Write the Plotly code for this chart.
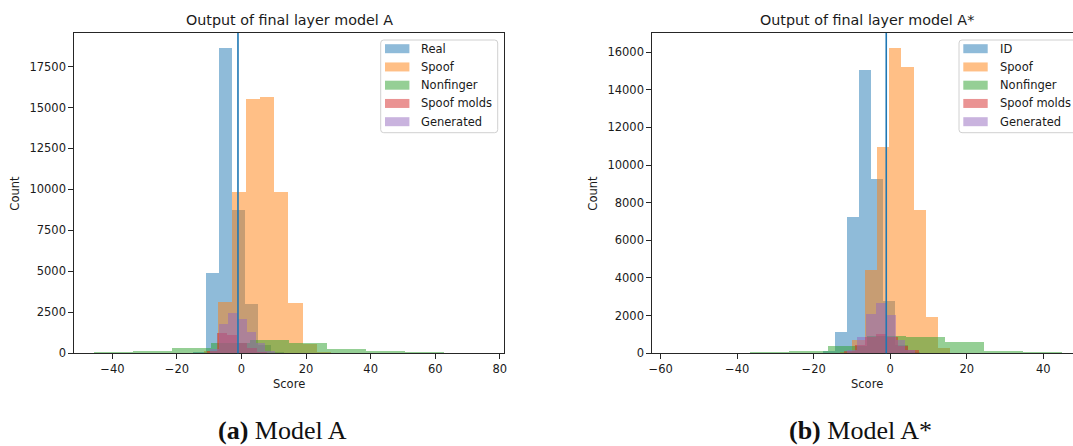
import numpy as np
import plotly.graph_objects as go

# ---- data: histogram bin edges and counts per class ----
# Model A
A_REAL_EDGES = [-15.0, -10.97, -6.94, -2.91, 1.12, 5.15, 9.18, 13.21, 17.24, 21.27, 25.3]
A_REAL = [60, 4880, 18610, 8750, 2990, 480, 110, 30, 8, 2]
A_SPOOF_EDGES = [-11.65, -7.27, -2.89, 1.49, 5.87, 10.25, 14.63, 19.01, 23.39, 27.77, 32.15]
A_SPOOF = [150, 3130, 9845, 15500, 15660, 9845, 3090, 560, 90, 10]
A_NONFINGER_EDGES = [-45.6, -33.55, -21.5, -9.45, 2.6, 14.65, 26.7, 38.75, 50.8, 62.85, 74.9]
A_NONFINGER = [60, 140, 300, 650, 810, 610, 265, 120, 60, 5]
A_MOLDS_EDGES = [-13.8, -10.7, -7.6, -4.5, -1.4, 1.7, 4.8, 7.9, 11.0, 14.1, 17.2]
A_MOLDS = [30, 170, 1250, 1120, 600, 300, 80, 20, 5, 1]
A_GEN_EDGES = [-12.6, -9.73, -6.86, -3.99, -1.12, 1.75, 4.62, 7.49, 10.36, 13.23, 16.1]
A_GEN = [20, 250, 1800, 2440, 2075, 1320, 600, 150, 30, 5]
A_THRESHOLD = -1.1

# Model A*
B_ID_EDGES = [-17.4, -14.26, -11.12, -7.98, -4.84, -1.7, 1.44, 4.58, 7.72, 10.86, 14.0]
B_ID = [100, 1116, 7230, 15060, 9265, 2800, 420, 80, 15, 3]
B_SPOOF_EDGES = [-13.03, -9.84, -6.64, -3.44, -0.24, 2.95, 6.15, 9.35, 12.54, 15.74, 18.94]
B_SPOOF = [60, 700, 4430, 10980, 16210, 15200, 7620, 1950, 270, 30]
B_NONFINGER_EDGES = [-57.0, -46.8, -36.6, -26.4, -16.2, -6.0, 4.2, 14.4, 24.6, 34.8, 45.0]
B_NONFINGER = [3, 10, 53, 142, 390, 900, 886, 585, 142, 53]
B_MOLDS_EDGES = [-14.8, -12.0, -9.2, -6.4, -3.6, -0.8, 2.0, 4.8, 7.6, 10.4, 13.2]
B_MOLDS = [20, 120, 450, 850, 1050, 880, 400, 150, 30, 5]
B_GEN_EDGES = [-16.4, -13.85, -11.3, -8.75, -6.2, -3.65, -1.1, 1.45, 4.0, 6.55, 9.1]
B_GEN = [5, 30, 200, 880, 2090, 2657, 2040, 700, 150, 20]
B_THRESHOLD = -1.05

A_LABELS = ["Real", "Spoof", "Nonfinger", "Spoof molds", "Generated"]
B_LABELS = ["ID", "Spoof", "Nonfinger", "Spoof molds", "Generated"]
A_TICKS_X = [-40, -20, 0, 20, 40, 60, 80]
B_TICKS_X = [-60, -40, -20, 0, 20, 40]
A_TICKS_Y = [0, 2500, 5000, 7500, 10000, 12500, 15000, 17500]
B_TICKS_Y = [0, 2000, 4000, 6000, 8000, 10000, 12000, 14000, 16000]

COLORS = ["#1f77b4", "#ff7f0e", "#2ca02c", "#d62728", "#9467bd"]
ALPHA = 0.5

W, H = 1073, 446
FONT = "DejaVu Sans"
TEXT = "#1a1a1a"


def rgba(hex_color, a):
    h = hex_color.lstrip("#")
    r, g, b = int(h[0:2], 16), int(h[2:4], 16), int(h[4:6], 16)
    return f"rgba({r},{g},{b},{a})"


def px(x):
    return x / W


def py(y):
    return 1 - y / H


def tick_text(vals):
    return [f"\u2212{abs(v)}" if v < 0 else str(v) for v in vals]


fig = go.Figure()

panels = [
    ("x", "y", A_LABELS, [
        (A_REAL_EDGES, A_REAL), (A_SPOOF_EDGES, A_SPOOF), (A_NONFINGER_EDGES, A_NONFINGER),
        (A_MOLDS_EDGES, A_MOLDS), (A_GEN_EDGES, A_GEN)]),
    ("x2", "y2", B_LABELS, [
        (B_ID_EDGES, B_ID), (B_SPOOF_EDGES, B_SPOOF), (B_NONFINGER_EDGES, B_NONFINGER),
        (B_MOLDS_EDGES, B_MOLDS), (B_GEN_EDGES, B_GEN)]),
]

for xa, ya, labels, series in panels:
    for (edges, counts), name, col in zip(series, labels, COLORS):
        e = np.asarray(edges, dtype=float)
        fig.add_trace(go.Bar(
            x=(e[:-1] + e[1:]) / 2, y=counts, width=np.diff(e),
            name=name, marker=dict(color=rgba(col, ALPHA), line=dict(width=0)),
            xaxis=xa, yaxis=ya, showlegend=False, hoverinfo="skip",
        ))

# threshold lines
shapes = []
for xref, yref, thr in [("x", "y domain", A_THRESHOLD), ("x2", "y2 domain", B_THRESHOLD)]:
    shapes.append(dict(type="line", xref=xref, yref=yref, x0=thr, x1=thr, y0=0, y1=1,
                       line=dict(color="#1f77b4", width=1.6), layer="above"))

# axes geometry (pixels)
A_L, A_R = 74.3, 504.3
B_L, B_R = 652.3, 1073.0
TOP, BOT = 33.0, 353.3

axis_common = dict(
    showgrid=False, zeroline=False, showline=True, linecolor="#262626", linewidth=1,
    ticks="outside", ticklen=5, tickwidth=1, tickcolor="#262626", automargin=False,
    tickfont=dict(family=FONT, size=11.5, color=TEXT),
)

fig.update_layout(
    template="none",
    width=W, height=H, margin=dict(l=0, r=0, t=0, b=0, pad=0, autoexpand=False),
    paper_bgcolor="white", plot_bgcolor="white", barmode="overlay", bargap=0,
    showlegend=False,
    xaxis=dict(domain=[px(A_L), px(A_R)], range=[-51.8, 81.4], tickvals=A_TICKS_X,
               ticktext=tick_text(A_TICKS_X), mirror=True, anchor="y", **axis_common),
    yaxis=dict(domain=[py(BOT), py(TOP)], range=[0, 19545], tickvals=A_TICKS_Y,
               ticktext=tick_text(A_TICKS_Y), mirror=True, anchor="x", **axis_common),
    xaxis2=dict(domain=[px(B_L), px(B_R)], range=[-62.2, 47.76], tickvals=B_TICKS_X,
                ticktext=tick_text(B_TICKS_X), mirror=True, anchor="y2", **axis_common),
    yaxis2=dict(domain=[py(BOT), py(TOP)], range=[0, 17010], tickvals=B_TICKS_Y,
                ticktext=tick_text(B_TICKS_Y), mirror=False, anchor="x2", **axis_common),
)

ann = []


def text(x, y, s, size=11.5, angle=0, family=FONT, xanchor="center", color=TEXT):
    ann.append(dict(x=px(x), y=py(y), xref="paper", yref="paper", text=s, showarrow=False,
                    font=dict(family=family, size=size, color=color), textangle=angle,
                    xanchor=xanchor, yanchor="middle"))


# titles and axis labels
text((A_L + A_R) / 2, 20, "Output of final layer model A", size=14.3)
text((B_L + 1082) / 2, 20, "Output of final layer model A*", size=14.3)
text((A_L + A_R) / 2, 384, "Score")
text((B_L + 1082) / 2, 384, "Score")
text(15.5, (TOP + BOT) / 2, "Count", angle=-90)
text(593.5, (TOP + BOT) / 2, "Count", angle=-90)

# sub-figure captions
text(282, 430, "<b>(a)</b> Model A", size=26, family="Liberation Serif", color="#111")
text(860, 430, "<b>(b)</b> Model A*", size=26, family="Liberation Serif", color="#111")


# legends
def legend(x0, x1, labels):
    y0, y1, r = 40.0, 132.7, 3.0
    path = (f"M {px(x0 + r)},{py(y0)} L {px(x1 - r)},{py(y0)} "
            f"Q {px(x1)},{py(y0)} {px(x1)},{py(y0 + r)} L {px(x1)},{py(y1 - r)} "
            f"Q {px(x1)},{py(y1)} {px(x1 - r)},{py(y1)} L {px(x0 + r)},{py(y1)} "
            f"Q {px(x0)},{py(y1)} {px(x0)},{py(y1 - r)} L {px(x0)},{py(y0 + r)} "
            f"Q {px(x0)},{py(y0)} {px(x0 + r)},{py(y0)} Z")
    shapes.append(dict(type="path", xref="paper", yref="paper", path=path,
                       fillcolor="rgba(255,255,255,0.8)", line=dict(color="#d0d0d0", width=1),
                       layer="above"))
    for i, (lab, col) in enumerate(zip(labels, COLORS)):
        yc = 48.7 + i * 18.25
        shapes.append(dict(type="rect", xref="paper", yref="paper",
                           x0=px(x0 + 4.3), x1=px(x0 + 28.7), y0=py(yc - 4.5), y1=py(yc + 4.5),
                           fillcolor=rgba(col, ALPHA), line=dict(width=0), layer="above"))
        text(x0 + 38.5, yc, lab, xanchor="left")


legend(380.7, 497.7, A_LABELS)
legend(959.0, 1085.0, B_LABELS)

fig.update_layout(annotations=ann, shapes=shapes)

fig.write_html("out.html")
